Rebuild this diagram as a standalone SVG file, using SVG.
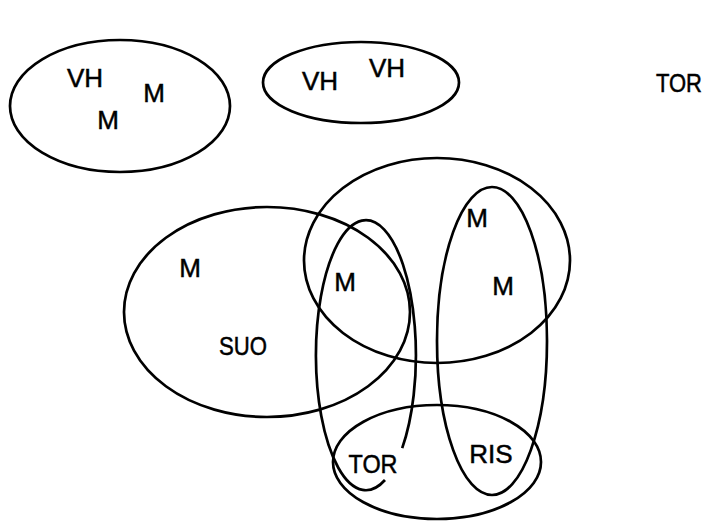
<svg xmlns="http://www.w3.org/2000/svg" width="709" height="522" viewBox="0 0 709 522">
<style>
.set{fill:none;stroke:#000;stroke-width:2.7}
.lbl{font-family:"Liberation Sans",Arial,sans-serif;font-size:26px;fill:#000;stroke:#000;stroke-width:0.5;text-anchor:middle}
</style>
<rect width="709" height="522" fill="#fff"/>
<g id="set-topleft">
<ellipse class="set" cx="120" cy="106" rx="110" ry="66"/>
<text class="lbl" x="85" y="87">VH</text>
<text class="lbl" x="154" y="102">M</text>
<text class="lbl" x="108" y="129">M</text>
</g>
<g id="set-topmid">
<ellipse class="set" cx="361" cy="82.5" rx="98" ry="40.5"/>
<text class="lbl" x="320" y="90">VH</text>
<text class="lbl" x="387" y="77">VH</text>
</g>
<g id="lone-tor">
<text class="lbl" x="679" y="92" textLength="46" lengthAdjust="spacingAndGlyphs">TOR</text>
</g>
<g id="set-suo">
<ellipse class="set" cx="267" cy="312" rx="143" ry="105"/>
<text class="lbl" x="190" y="277">M</text>
<text class="lbl" x="243" y="355" textLength="48" lengthAdjust="spacingAndGlyphs">SUO</text>
</g>
<g id="set-circle">
<ellipse class="set" cx="437" cy="260.5" rx="133" ry="102.5"/>
<text class="lbl" x="345" y="291">M</text>
</g>
<g id="set-tor">
<path class="set" d="M385 480 A50 135 0 1 1 402.2 448.1"/>
<text class="lbl" x="373" y="473" textLength="49" lengthAdjust="spacingAndGlyphs">TOR</text>
</g>
<g id="set-ris">
<ellipse class="set" cx="492" cy="341" rx="55" ry="154"/>
<text class="lbl" x="477" y="227">M</text>
<text class="lbl" x="503" y="295">M</text>
<text class="lbl" x="491" y="463">RIS</text>
</g>
<g id="set-bottom">
<ellipse class="set" cx="437" cy="462" rx="104" ry="57"/>
</g>
</svg>
